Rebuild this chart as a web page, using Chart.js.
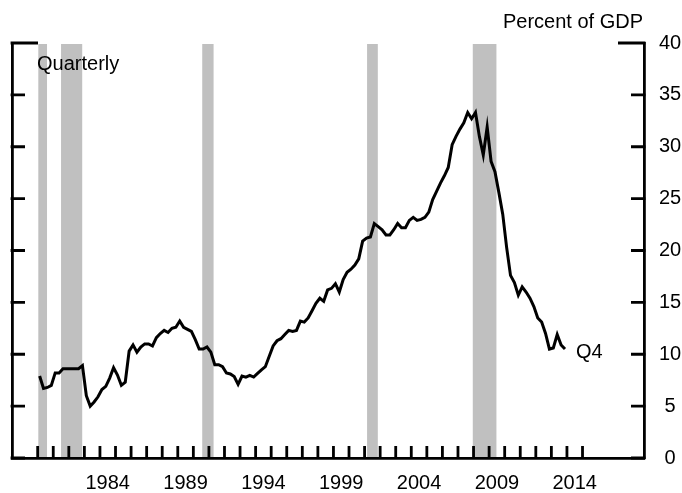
<!DOCTYPE html>
<html>
<head>
<meta charset="utf-8">
<title>Percent of GDP</title>
<script src="https://cdn.jsdelivr.net/npm/chart.js@4.4.1/dist/chart.umd.min.js"></script>
<style>
    html, body { margin: 0; padding: 0; background: #fff; }
    canvas { display: block; }
</style>
</head>
<body>
<canvas id="gdp_chart" width="682" height="493"></canvas>
<script>
// quarterly values, percent of GDP, starting 1980 Q1
const firstYear = 1980;
const values1980s = [
    7.9, 6.7, 6.8, 7.0,   8.2, 8.2, 8.6, 8.6,   8.6, 8.6, 8.6, 8.9,
    6.0, 5.0, 5.4, 5.9,   6.6, 6.9, 7.7, 8.7,   8.0, 7.0, 7.3, 10.3,
    10.9, 10.2, 10.7, 11.0, 11.0, 10.8, 11.6, 12.0, 12.3, 12.1, 12.5, 12.6,
    13.2, 12.6, 12.4, 12.2
];
const values1990s = [
    11.4, 10.5, 10.5, 10.7, 10.2, 9.0, 9.0, 8.8,  8.2, 8.1, 7.85, 7.1,
    7.9, 7.8, 7.96, 7.8,  8.15, 8.5, 8.8, 9.8,  10.8, 11.3, 11.5, 11.9,
    12.3, 12.2, 12.3, 13.2, 13.1, 13.5, 14.2, 14.9, 15.4, 15.1, 16.2, 16.35,
    16.8, 16.0, 17.2, 17.9
];
const values2000s = [
    18.2, 18.6, 19.2, 20.9, 21.2, 21.3, 22.6, 22.3, 22.0, 21.5, 21.5, 22.0,
    22.6, 22.2, 22.2, 22.9, 23.2, 22.9, 23.0, 23.2, 23.7, 24.9, 25.7, 26.5,
    27.2, 28.0, 30.2, 31.0, 31.7, 32.3, 33.3, 32.7, 33.3, 31.0, 29.2, 31.9,
    28.6, 27.6, 25.6, 23.5
];
const values2010s = [
    20.3, 17.6, 16.9, 15.7, 16.5, 16.0, 15.4, 14.6, 13.5, 13.1, 12.0, 10.5,
    10.6, 11.9, 10.9, 10.5
];

// recessions, in decimal years
const recessionStarts = [1980.04, 1981.5, 1990.57, 2001.16, 2007.95];
const recessionEnds = [1980.6, 1982.86, 1991.3, 2001.85, 2009.47];

const yearLabels = [1984, 1989, 1994, 1999, 2004, 2009, 2014];
const yearTicks = [];
for (let yr = 1980; yr <= 2015; yr++) yearTicks.push(yr);
const valueTicks = [0, 5, 10, 15, 20, 25, 30, 35, 40];

const allValues = [...values1980s, ...values1990s, ...values2000s, ...values2010s];
const points = allValues.map((v, i) => ({ x: firstYear + i / 4 + 0.125, y: v }));

const font = { family: "'Liberation Sans', Arial, Helvetica, sans-serif", size: 20 };

const decorations = {
    id: 'decorations',
    beforeDraw(chart) {
        const { ctx, chartArea, scales: { x } } = chart;
        ctx.save();
        ctx.fillStyle = '#c0c0c0';
        recessionStarts.forEach((start, i) => {
            const left = x.getPixelForValue(start);
            const right = x.getPixelForValue(recessionEnds[i]);
            ctx.fillRect(left, chartArea.top + 1, right - left, chartArea.bottom - chartArea.top - 1);
        });
        ctx.restore();
    },
    afterDraw(chart) {
        const { ctx, chartArea, scales: { x, y } } = chart;
        ctx.save();
        ctx.strokeStyle = '#000';
        ctx.lineWidth = 2.8;
        ctx.beginPath();
        yearTicks.forEach((yr) => {
            const px = x.getPixelForValue(yr);
            ctx.moveTo(px, chartArea.bottom);
            ctx.lineTo(px, chartArea.bottom - 12);
        });
        valueTicks.forEach((v) => {
            const py = y.getPixelForValue(v);
            const len = v === 40 ? 26 : 13;
            ctx.moveTo(chartArea.left - 1.4, py);
            ctx.lineTo(chartArea.left + len, py);
            ctx.moveTo(chartArea.right + 1.4, py);
            ctx.lineTo(chartArea.right - len, py);
        });
        ctx.stroke();

        ctx.fillStyle = '#000';
        ctx.font = font.size + 'px ' + font.family;
        ctx.textBaseline = 'alphabetic';
        ctx.textAlign = 'right';
        ctx.fillText('Percent of GDP', chartArea.right - 1, 27.5);
        ctx.textAlign = 'left';
        ctx.fillText('Quarterly', 37, 69.5);

        const last = points[points.length - 1];
        ctx.fillText('Q4', x.getPixelForValue(last.x) + 11, y.getPixelForValue(last.y) + 9);
        ctx.restore();
    }
};

new Chart(document.getElementById('gdp_chart').getContext('2d'), {
    type: 'line',
    data: {
        datasets: [{
            data: points,
            borderColor: '#000',
            borderWidth: 3,
            pointRadius: 0,
            fill: false,
            tension: 0,
            xAxisID: 'x',
            yAxisID: 'y'
        }]
    },
    options: {
        responsive: false,
        animation: false,
        events: [],
        layout: { padding: { left: 12, top: 43, right: 0, bottom: 0 } },
        plugins: { legend: { display: false }, tooltip: { enabled: false } },
        scales: {
            x: {
                type: 'linear',
                position: 'bottom',
                min: 1978.35,
                max: 2018.95,
                grid: { display: false, drawTicks: false },
                border: { display: true, color: '#000', width: 2.8 },
                ticks: {
                    font: font,
                    color: '#000',
                    padding: 13,
                    autoSkip: false,
                    maxRotation: 0,
                    callback: (v) => String(Math.floor(v))
                },
                afterBuildTicks: (s) => { s.ticks = yearLabels.map((yr) => ({ value: yr + 0.5 })); },
                afterFit: (s) => { s.height = 35; }
            },
            y: {
                type: 'linear',
                position: 'right',
                min: 0,
                max: 40,
                grid: { display: false, drawTicks: false },
                border: { display: true, color: '#000', width: 2.8 },
                ticks: {
                    font: font,
                    color: '#000',
                    stepSize: 5,
                    padding: 15,
                    crossAlign: 'center'
                },
                afterFit: (s) => { s.width = 38; }
            },
            yLeft: {
                type: 'linear',
                position: 'left',
                min: 0,
                max: 40,
                grid: { display: false, drawTicks: false },
                border: { display: true, color: '#000', width: 2.8 },
                ticks: { display: false },
                afterFit: (s) => { s.width = 0; }
            }
        }
    },
    plugins: [decorations]
});
</script>
</body>
</html>
